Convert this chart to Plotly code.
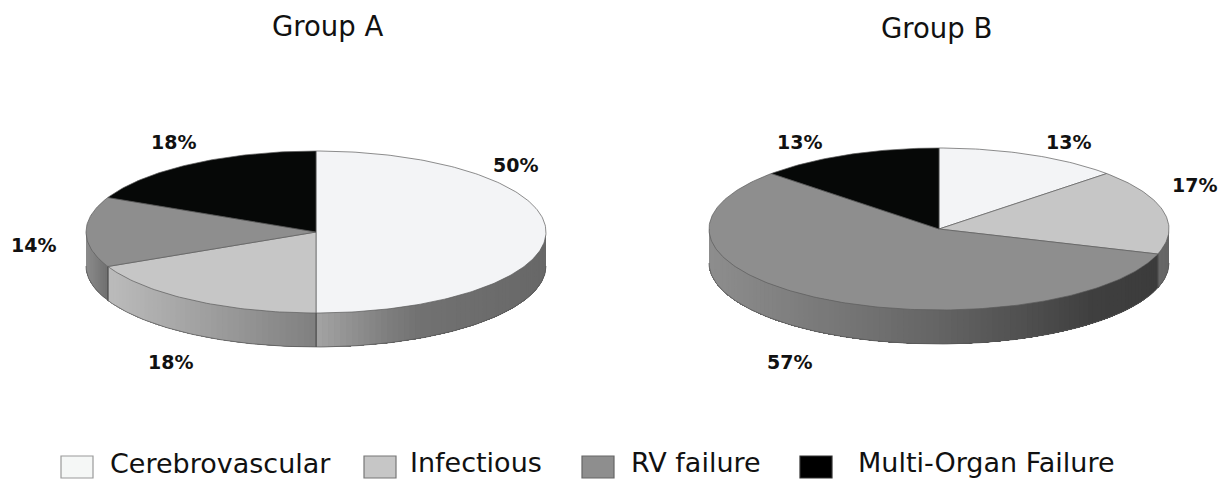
import numpy as np
import plotly.graph_objects as go

# ---- data ----
categories = ["Cerebrovascular", "Infectious", "RV failure", "Multi-Organ Failure"]
group_names = ["Group A", "Group B"]
group_a_values = [50, 18, 14, 18]
group_b_values = [13, 17, 57, 13]
group_a_labels = ["50%", "18%", "14%", "18%"]
group_b_labels = ["13%", "17%", "57%", "13%"]

# ---- style ----
top_colors = ["#f3f4f6", "#c6c6c6", "#8e8e8e", "#060807"]
legend_colors = ["#f5f7f6", "#c6c6c6", "#8e8e8e", "#000000"]
legend_edges = ["#9a9a9a", "#777777", "#666666", "#333333"]
group_a_side = [
    [(0.0, 0xa4), (0.3, 0x80), (0.45, 0x72), (1.0, 0x68)],
    [(0.0, 0xbc), (1.0, 0x80)],
    [(0.0, 0x8c), (1.0, 0x70)],
    [(0.0, 0x70), (1.0, 0x70)],
]
group_b_side = [
    [(0.0, 0x66), (1.0, 0x66)],
    [(0.0, 0x68), (1.0, 0x66)],
    [(0.0, 0x8e), (0.5, 0x66), (0.85, 0x40), (1.0, 0x3c)],
    [(0.0, 0x70), (1.0, 0x70)],
]
RX, RY, DEPTH = 230, 81, 34
CENTERS = [(316, 232), (939, 229)]
LABEL_POS_A = [(515, 165), (170, 362), (33, 245), (173, 142)]
LABEL_POS_B = [(1068, 142), (1194, 185), (789, 362), (799, 142)]
TITLE_POS = [(327, 26), (936, 28)]
SWATCH_X = [61, 364, 582, 800]
SWATCH_W = 32
LEGEND_TEXT_X = [220, 476, 696, 986]
LEGEND_TEXT_BOTTOM = [481, 480, 480, 480]

fig = go.Figure()


def ex(cx, t):
    return cx + RX * np.sin(np.radians(t))


def ey(cy, t):
    return cy - RY * np.cos(np.radians(t))


def draw_pie(values, center, side):
    cx, cy = center
    total = sum(values)
    edges = np.concatenate([[0], np.cumsum(values)]) / total * 360
    # side wall: only the front half of the rim is visible
    for i in range(len(values)):
        lo, hi = max(edges[i], 90), min(edges[i + 1], 270)
        if hi <= lo:
            continue
        n = max(2, int((hi - lo) / 1.5))
        ts = np.linspace(lo, hi, n + 1)
        xl, xr = ex(cx, ts).min(), ex(cx, ts).max()
        fr, gr = zip(*side[i])
        # each strip reaches to the slice's end and the next one paints over it, so no seams show
        for a, b in zip(ts[:-1], ts[1:]):
            tt = np.linspace(a, hi, max(3, int(hi - a) + 2))
            xs = np.concatenate([ex(cx, tt), ex(cx, tt[::-1]), ex(cx, tt[:1])])
            ys = np.concatenate([ey(cy, tt), ey(cy, tt[::-1]) + DEPTH, ey(cy, tt[:1])])
            f = (ex(cx, (a + b) / 2) - xl) / max(xr - xl, 1e-6)
            g = int(np.interp(f, fr, gr))
            c = f"rgb({g},{g},{g})"
            fig.add_trace(go.Scatter(x=xs, y=ys, mode="lines", fill="toself", fillcolor=c,
                                     line=dict(width=0), hoverinfo="skip", showlegend=False))
        # slice boundary on the wall
        for t in (lo, hi):
            if 90 < t < 270:
                fig.add_trace(go.Scatter(x=[ex(cx, t)] * 2, y=[ey(cy, t), ey(cy, t) + DEPTH], mode="lines",
                                         line=dict(color="#4a4a4a", width=1), hoverinfo="skip", showlegend=False))
    # lower rim outline
    tt = np.linspace(90, 270, 181)
    fig.add_trace(go.Scatter(x=ex(cx, tt), y=ey(cy, tt) + DEPTH, mode="lines",
                             line=dict(color="#555555", width=0.7), hoverinfo="skip", showlegend=False))
    # top face
    for i, col in enumerate(top_colors):
        tt = np.linspace(edges[i], edges[i + 1], max(3, int(edges[i + 1] - edges[i]) + 1))
        xs = np.concatenate([[cx], ex(cx, tt), [cx]])
        ys = np.concatenate([[cy], ey(cy, tt), [cy]])
        fig.add_trace(go.Scatter(x=xs, y=ys, mode="lines", fill="toself", fillcolor=col,
                                 line=dict(color="#5c5c5c", width=0.7), name=categories[i],
                                 hovertemplate=categories[i] + ": %{text}<extra></extra>",
                                 text=[f"{values[i]}%"] * len(xs), showlegend=False))


draw_pie(group_a_values, CENTERS[0], group_a_side)
draw_pie(group_b_values, CENTERS[1], group_b_side)

ann = []
for name, (x, y) in zip(group_names, TITLE_POS):
    ann.append(dict(x=x, y=y, text=name, showarrow=False, xanchor="center", yanchor="middle",
                    font=dict(family="DejaVu Sans", size=27.5, color="#111111")))
for labels, poss in ((group_a_labels, LABEL_POS_A), (group_b_labels, LABEL_POS_B)):
    for t, (x, y) in zip(labels, poss):
        ann.append(dict(x=x, y=y, text=t, showarrow=False, xanchor="center", yanchor="middle",
                        font=dict(family="DejaVu Sans", size=19, color="#111111", weight="bold")))
for c, x, y in zip(categories, LEGEND_TEXT_X, LEGEND_TEXT_BOTTOM):
    ann.append(dict(x=x, y=y, text=c, showarrow=False, xanchor="center", yanchor="bottom",
                    font=dict(family="DejaVu Sans", size=27, color="#111111")))

shapes = [dict(type="rect", x0=x, x1=x + SWATCH_W, y0=456, y1=478, fillcolor=f,
               line=dict(color=e, width=1.2))
          for x, f, e in zip(SWATCH_X, legend_colors, legend_edges)]

fig.update_layout(
    width=1225, height=481, margin=dict(l=0, r=0, t=0, b=0),
    paper_bgcolor="white", plot_bgcolor="white", showlegend=False,
    xaxis=dict(range=[0, 1225], visible=False, fixedrange=True),
    yaxis=dict(range=[481, 0], visible=False, fixedrange=True),
    annotations=ann, shapes=shapes,
)
fig.write_html("out.html", post_script="document.body.style.margin='0';", config={"displayModeBar": False})
